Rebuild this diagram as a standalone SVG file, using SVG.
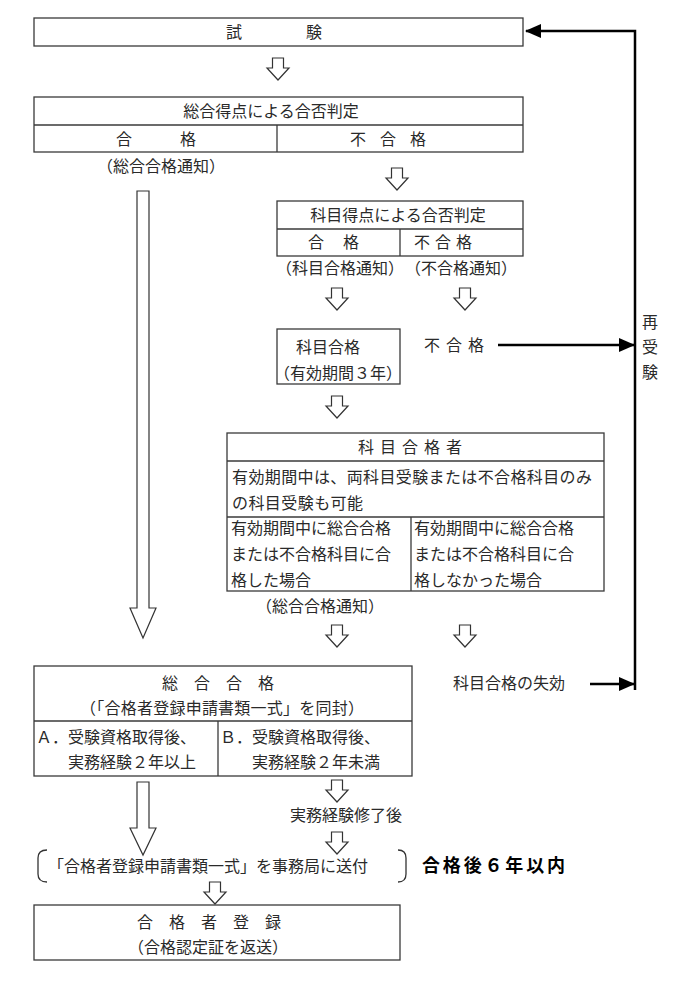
<svg xmlns="http://www.w3.org/2000/svg" xmlns:xlink="http://www.w3.org/1999/xlink" width="681" height="997" viewBox="0 0 681 997">
<style>
  .box { fill: #fff; stroke: #3a3a3a; stroke-width: 1.3; }
  .div { fill: none; stroke: #3a3a3a; stroke-width: 1.3; }
  .t { font-family: "Noto Sans CJK JP", "Noto Sans", sans-serif; font-size: 16px; fill: #2a2a2a; }
  .c { text-anchor: middle; }
  .b { font-weight: bold; font-size: 18px; fill: #000; }
  .hol { fill: #fff; stroke: #333; stroke-width: 1.2; stroke-linejoin: miter; }
  .con { fill: none; stroke: #000; stroke-width: 2.5; }
  .brk { fill: none; stroke: #333; stroke-width: 1.3; }
</style>
<defs>
  <marker id="ah" markerWidth="16" markerHeight="14" refX="15" refY="7" orient="auto" markerUnits="userSpaceOnUse">
    <path d="M0,0 L16,7 L0,14 Z" fill="#000"/>
  </marker>
  <path id="ha" d="M-5.5,0 H5.5 V10 H11 L0,22 L-11,10 H-5.5 Z"/>
</defs>
<rect width="681" height="997" fill="#fff"/>

<g id="connectors">
  <path class="con" d="M635,690 V31 H526" marker-end="url(#ah)"/>
  <path class="con" d="M498,345 H634" marker-end="url(#ah)"/>
  <path class="con" d="M590,684 H634" marker-end="url(#ah)"/>
  <use href="#ha" class="hol" x="278" y="58"/>
  <use href="#ha" class="hol" x="397" y="168"/>
  <use href="#ha" class="hol" x="337" y="288"/>
  <use href="#ha" class="hol" x="465" y="288"/>
  <use href="#ha" class="hol" x="337" y="396"/>
  <use href="#ha" class="hol" x="337" y="625"/>
  <use href="#ha" class="hol" x="465" y="625"/>
  <use href="#ha" class="hol" x="337" y="780"/>
  <use href="#ha" class="hol" x="337" y="832"/>
  <use href="#ha" class="hol" x="215" y="882"/>
  <path class="hol" d="M137,191 H149 V608 H156 L143,638 L130,608 H137 Z"/>
  <path class="hol" d="M137,782 H149 V828 H156 L143,855 L130,828 H137 Z"/>
</g>

<g id="n-shiken">
  <rect class="box" x="34" y="18" width="489" height="28"/>
  <text class="t c" x="274" y="38">試　　　　験</text>
</g>

<g id="n-sogo-hantei">
  <rect class="box" x="34" y="97" width="489" height="55"/>
  <line class="div" x1="34" y1="125" x2="523" y2="125"/>
  <line class="div" x1="277" y1="125" x2="277" y2="152"/>
  <text class="t c" x="271" y="117">総合得点による合否判定</text>
  <text class="t c" x="156" y="145">合　　　格</text>
  <text class="t c" x="358 388 418" y="145">不合格</text>
</g>

<g id="l-sogo-tsuchi1">
  <text class="t c" x="161" y="172">（総合合格通知）</text>
</g>

<g id="n-kamoku-hantei">
  <rect class="box" x="277" y="201" width="246" height="55"/>
  <line class="div" x1="277" y1="229" x2="523" y2="229"/>
  <line class="div" x1="400" y1="229" x2="400" y2="256"/>
  <text class="t c" x="398" y="221">科目得点による合否判定</text>
  <text class="t c" x="316 351" y="248">合格</text>
  <text class="t c" x="422 443 464" y="248">不合格</text>
</g>

<g id="l-kamoku-tsuchi">
  <text class="t c" x="340" y="274">（科目合格通知）</text>
  <text class="t c" x="461" y="274">（不合格通知）</text>
</g>

<g id="n-kamoku-gokaku">
  <rect class="box" x="277" y="329" width="123" height="55"/>
  <text class="t c" x="328" y="353">科目合格</text>
  <text class="t c" x="338" y="379">（有効期間３年）</text>
</g>

<g id="l-fugokaku">
  <text class="t c" x="432 454 476" y="351">不合格</text>
</g>

<g id="l-saijuken">
  <text class="t c" x="650" y="328">再</text>
  <text class="t c" x="650" y="353">受</text>
  <text class="t c" x="650" y="378">験</text>
</g>

<g id="n-kamoku-gokakusha">
  <rect class="box" x="227" y="433" width="377" height="158"/>
  <line class="div" x1="227" y1="461" x2="604" y2="461"/>
  <line class="div" x1="227" y1="517" x2="604" y2="517"/>
  <line class="div" x1="411" y1="517" x2="411" y2="591"/>
  <text class="t c" x="366 388 410 432 454" y="453">科目合格者</text>
  <text class="t" x="232" y="483" textLength="360" lengthAdjust="spacing">有効期間中は、両科目受験または不合格科目のみ</text>
  <text class="t" x="232" y="509" textLength="131" lengthAdjust="spacing">の科目受験も可能</text>
  <text class="t" x="231" y="534" textLength="160" lengthAdjust="spacing">有効期間中に総合合格</text>
  <text class="t" x="231" y="560" textLength="160" lengthAdjust="spacing">または不合格科目に合</text>
  <text class="t" x="231" y="586" textLength="80" lengthAdjust="spacing">格した場合</text>
  <text class="t" x="414" y="534" textLength="160" lengthAdjust="spacing">有効期間中に総合合格</text>
  <text class="t" x="414" y="560" textLength="160" lengthAdjust="spacing">または不合格科目に合</text>
  <text class="t" x="414" y="586" textLength="128" lengthAdjust="spacing">格しなかった場合</text>
</g>

<g id="l-sogo-tsuchi2">
  <text class="t c" x="320" y="612">（総合合格通知）</text>
</g>

<g id="l-shikko">
  <text class="t" x="453" y="689" textLength="112" lengthAdjust="spacing">科目合格の失効</text>
</g>

<g id="n-sogo-gokaku">
  <rect class="box" x="34" y="666" width="378" height="110"/>
  <line class="div" x1="34" y1="721" x2="412" y2="721"/>
  <line class="div" x1="218" y1="721" x2="218" y2="776"/>
  <text class="t c" x="218" y="689">総　合　合　格</text>
  <text class="t c" x="222" y="714" textLength="284" lengthAdjust="spacing">（「合格者登録申請書類一式」を同封）</text>
  <text class="t" x="36" y="743" textLength="160" lengthAdjust="spacing">Ａ．受験資格取得後、</text>
  <text class="t" x="68" y="768" textLength="128" lengthAdjust="spacing">実務経験２年以上</text>
  <text class="t" x="220" y="743" textLength="160" lengthAdjust="spacing">Ｂ．受験資格取得後、</text>
  <text class="t" x="252" y="768" textLength="128" lengthAdjust="spacing">実務経験２年未満</text>
</g>

<g id="l-jitsumu">
  <text class="t c" x="346" y="821">実務経験修了後</text>
</g>

<g id="n-soufu">
  <path class="brk" d="M47,850 Q38,850 38,858 V874 Q38,882 47,882"/>
  <path class="brk" d="M398,850 Q406,850 406,858 V874 Q406,882 398,882"/>
  <text class="t" x="48" y="872" textLength="320" lengthAdjust="spacing">「合格者登録申請書類一式」を事務局に送付</text>
  <text class="t b" x="422" y="872" textLength="143" lengthAdjust="spacing">合格後６年以内</text>
</g>

<g id="n-toroku">
  <rect class="box" x="34" y="905" width="366" height="55"/>
  <text class="t c" x="209" y="928">合　格　者　登　録</text>
  <text class="t c" x="208" y="953">（合格認定証を返送）</text>
</g>
</svg>
